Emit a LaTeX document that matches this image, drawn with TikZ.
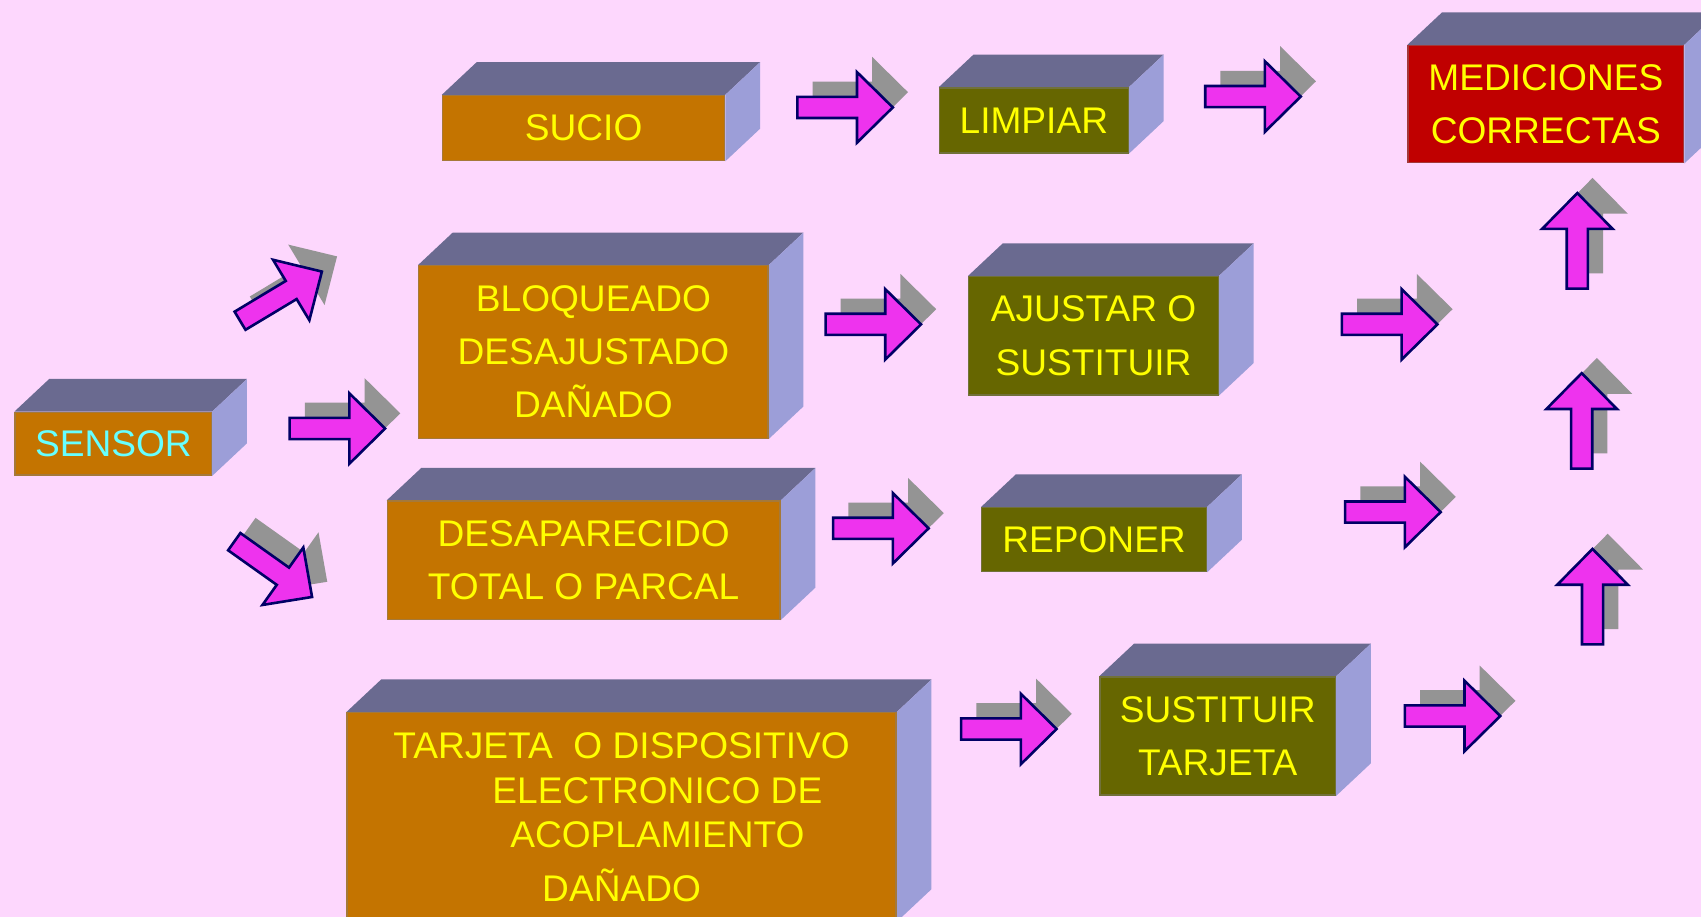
\documentclass[tikz,border=0pt]{standalone}
\usepackage{fontspec}
\setmainfont{Liberation Sans}
\usepackage{tikz}
\usetikzlibrary{backgrounds}

\definecolor{fondo}{HTML}{FDD7FD}
\definecolor{techo}{HTML}{6A6A90}
\definecolor{lado}{HTML}{9C9ED8}
\definecolor{naranja}{HTML}{C47400}
\definecolor{oliva}{HTML}{666600}
\definecolor{rojo}{HTML}{C00000}
\definecolor{amarillo}{HTML}{FFFF00}
\definecolor{celeste}{HTML}{66FFFF}
\definecolor{rosa}{HTML}{EE33EE}
\definecolor{marino}{HTML}{000066}
\definecolor{gris}{HTML}{949494}

\begin{document}
\begin{tikzpicture}[x=0.5pt,y=-0.5pt,
    caja/.style={rectangle, fill=#1, draw=#1!55!gray, line width=0.65pt,
      text=amarillo, align=center, inner sep=0pt,
      font=\fontsize{17.1}{24.5}\selectfont},
    sombra/.style={fill=gris},
    flecha/.style={fill=rosa, draw=marino, line width=1.2pt, line join=miter}]
    \useasboundingbox (0,0) rectangle (1568,845);

    \node[caja=naranja, text=celeste, minimum width=90.5pt, minimum height=29pt] (sensor) at (104.5,409) {SENSOR};
    \node[caja=naranja, minimum width=130pt, minimum height=30pt] (sucio) at (538,118) {SUCIO};
    \node[caja=oliva, minimum width=87pt, minimum height=30pt] (limpiar) at (953,111) {LIMPIAR};
    \node[caja=rojo, minimum width=127pt, minimum height=54pt] (mediciones) at (1425,96) {MEDICIONES\\CORRECTAS};
    \node[caja=naranja, minimum width=161pt, minimum height=79.5pt] (bloqueado) at (547,324.5) {BLOQUEADO\\DESAJUSTADO\\DAÑADO};
    \node[caja=oliva, minimum width=115pt, minimum height=54.5pt] (ajustar) at (1008,309.5) {AJUSTAR O\\SUSTITUIR};
    \node[caja=naranja, minimum width=181pt, minimum height=54.5pt] (desaparecido) at (538,516.5) {DESAPARECIDO\\TOTAL O PARCAL};
    \node[caja=oliva, minimum width=103.5pt, minimum height=29.5pt] (reponer) at (1008.5,497.5) {REPONER};
    \node[caja=oliva, minimum width=108.5pt, minimum height=54.5pt] (sustituir) at (1122.5,678.5) {SUSTITUIR\\TARJETA};
    \node[caja=naranja, minimum width=253pt, minimum height=96pt] (tarjeta) at (573,753)
      {TARJETA\ \ O DISPOSITIVO\\[-3.8pt]\hspace*{33pt}ELECTRONICO DE\\[-3.8pt]\hspace*{33pt}ACOPLAMIENTO\\DAÑADO};

    % caras de las cajas
    \begin{pgfonlayer}{background}
      \fill[fondo] (0,0) rectangle (1568,845);
      \foreach \n in {sensor,sucio,limpiar,mediciones,bloqueado,ajustar,desaparecido,reponer,sustituir,tarjeta}{
        \fill[techo] (\n.north west) -- ++(32,-30) -- ([shift={(32,-30)}]\n.north east) -- (\n.north east) -- cycle;
        \fill[lado] (\n.north east) -- ++(32,-30) -- ([shift={(32,-30)}]\n.south east) -- (\n.south east) -- cycle;
      }
    \end{pgfonlayer}

    % flechas
    \foreach \n/\x/\y/\a in {f1/259/273/31, f2/311/395/0, f3/251.8/524.8/-35.4,
        f4/779/99/0, f5/1155/89/0, f6/805/299/0, f7/1281/299/0, f8/812/487/0,
        f9/1284/472/0, f10/930/672/0, f11/1339/660/0,
        f12/1454/222/90, f13/1458/388/90, f14/1468/550/90}{
      \coordinate (\n) at (\x,\y);
      \fill[sombra, shift={(\n)}, shift={(14,-14)}, rotate=\a]
        (-44,-9.75) -- (11,-9.75) -- (11,-32.5) -- (44,0) -- (11,32.5) -- (11,9.75) -- (-44,9.75) -- cycle;
      \filldraw[flecha, shift={(\n)}, rotate=\a]
        (-44,-9.75) -- (11,-9.75) -- (11,-32.5) -- (44,0) -- (11,32.5) -- (11,9.75) -- (-44,9.75) -- cycle;
    }
\end{tikzpicture}
\end{document}
